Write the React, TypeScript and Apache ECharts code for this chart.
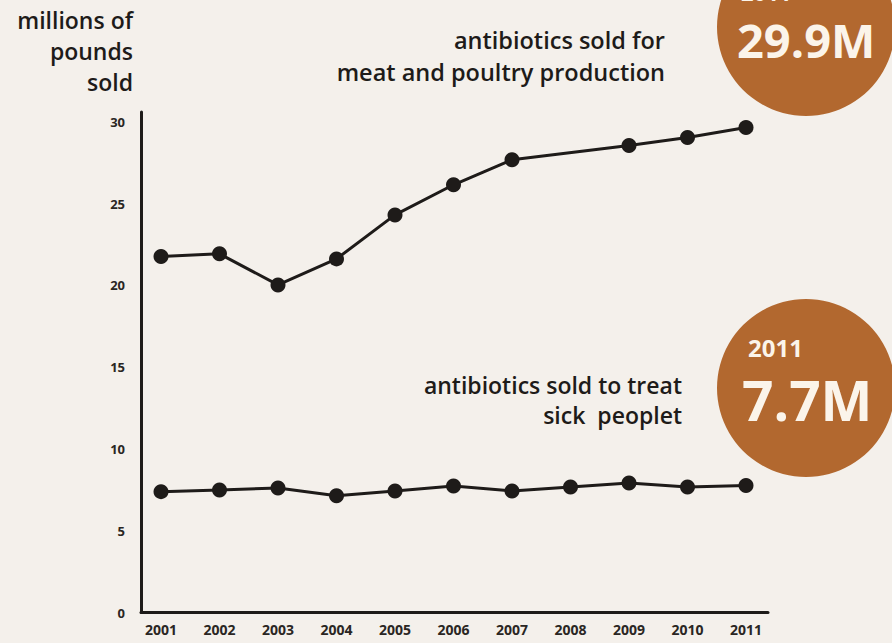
import React, { useEffect, useRef } from "react";
import * as echarts from "echarts";

const years = [2001, 2002, 2003, 2004, 2005, 2006, 2007, 2008, 2009, 2010, 2011];
// 2008 has no marker on the upper line in the source
const meatPoultry = [21.76, 21.93, 20.03, 21.62, 24.31, 26.15, 27.68, null, 28.55, 29.04, 29.65];
const sickPeople = [7.39, 7.49, 7.61, 7.14, 7.43, 7.74, 7.43, 7.68, 7.92, 7.68, 7.76];
const yTicks = [0, 5, 10, 15, 20, 25, 30];

const yAxisTitle = ["millions of", "pounds", "sold"];
const meatLabel = ["antibiotics sold for", "meat and poultry production"];
const sickLabel = ["antibiotics sold to treat", "sick  peoplet"];
const meatBadge = { year: "2011", value: "29.9M" };
const sickBadge = { year: "2011", value: "7.7M" };

const FONT = "'Open Sans', 'Liberation Sans', sans-serif";
const INK = "#1e1b19";
const BROWN = "#b2682f";

export default function App() {
  const ref = useRef<HTMLDivElement>(null);
  useEffect(() => {
    if (!ref.current) return;
    const chart = echarts.init(ref.current, undefined, { renderer: "svg" });
    const toPairs = (vals: (number | null)[]) =>
      years.map((y, i) => [y, vals[i] === null ? null : vals[i]]);
    const lineSeries = (name: string, vals: (number | null)[]) => ({
      name,
      type: "line",
      data: toPairs(vals),
      connectNulls: true,
      symbol: "circle",
      symbolSize: 15,
      lineStyle: { color: INK, width: 3 },
      itemStyle: { color: INK },
      z: 5,
    });
    const textLines = (
      lines: string[],
      right: number,
      top: number,
      lh: number,
      size: number
    ) =>
      lines.map((t, i) => ({
        type: "text",
        x: right,
        y: top + i * lh,
        style: {
          text: t,
          align: "right",
          verticalAlign: "middle",
          font: `600 ${size}px ${FONT}`,
          fill: INK,
        },
      }));
    chart.setOption({
      animation: false,
      backgroundColor: "#f4f0eb",
      grid: { left: 141, right: 124, top: 112, bottom: 30.5, containLabel: false },
      xAxis: {
        type: "value",
        min: 2000.658,
        max: 2011.376,
        splitLine: { show: false },
        axisLine: { show: true, lineStyle: { color: INK, width: 3 } },
        axisTick: { show: false },
        axisLabel: {
          customValues: years,
          formatter: (v: number) => String(Math.round(v)),
          color: "#2a2623",
          fontFamily: FONT,
          fontWeight: 700,
          fontSize: 14,
          margin: 10,
        },
      },
      yAxis: {
        type: "value",
        min: 0,
        max: 30.6,
        splitLine: { show: false },
        axisLine: { show: true, lineStyle: { color: INK, width: 3 } },
        axisTick: { show: false },
        axisLabel: {
          customValues: yTicks,
          color: "#2a2623",
          fontFamily: FONT,
          fontWeight: 700,
          fontSize: 13,
          margin: 16,
        },
      },
      series: [
        lineSeries("meat and poultry production", meatPoultry),
        lineSeries("sick people", sickPeople),
      ],
      graphic: [
        { type: "circle", shape: { cx: 806, cy: 27, r: 89 }, style: { fill: BROWN } },
        { type: "circle", shape: { cx: 806, cy: 388, r: 89 }, style: { fill: BROWN } },
        {
          type: "text",
          x: 741,
          y: -8,
          style: { text: meatBadge.year, font: `700 22px ${FONT}`, fill: "#fbf4ea", verticalAlign: "middle" },
        },
        {
          type: "text",
          x: 737,
          y: 40,
          style: { text: meatBadge.value, font: `700 47px ${FONT}`, fill: "#fbf4ea", verticalAlign: "middle" },
        },
        {
          type: "text",
          x: 748,
          y: 347,
          style: { text: sickBadge.year, font: `700 24px ${FONT}`, fill: "#fbf4ea", verticalAlign: "middle" },
        },
        {
          type: "text",
          x: 742,
          y: 399,
          style: { text: sickBadge.value, font: `700 55px ${FONT}`, fill: "#fbf4ea", verticalAlign: "middle" },
        },
        ...textLines(yAxisTitle, 133, 20, 31, 23),
        ...textLines(meatLabel, 665, 40, 32, 23.5),
        ...textLines(sickLabel, 682, 385, 30, 23),
      ],
    });
    return () => chart.dispose();
  }, []);
  return (
    <div
      ref={ref}
      style={{ position: "fixed", left: 0, top: 0, width: 892, height: 643 }}
    />
  );
}
